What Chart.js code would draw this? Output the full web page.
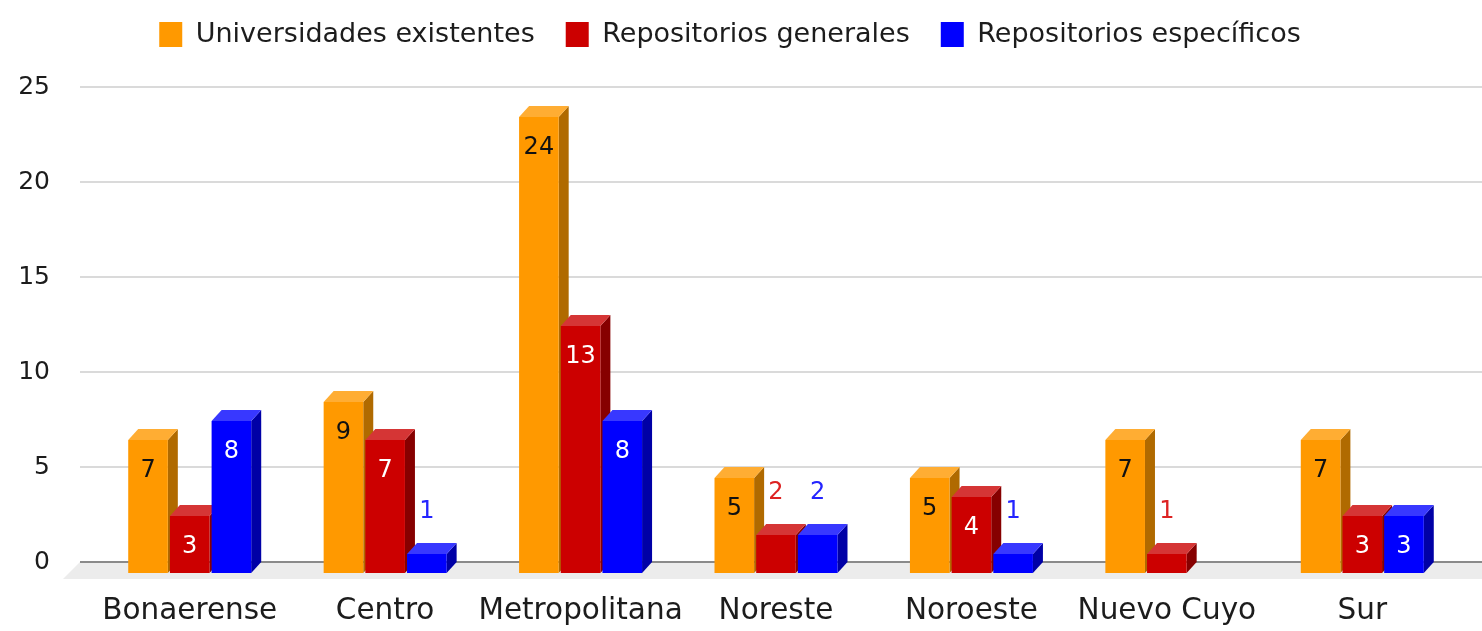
<!DOCTYPE html>
<html>
<head>
<meta charset="utf-8">
<script src="https://cdn.jsdelivr.net/npm/chart.js@4.4.1/dist/chart.umd.min.js"></script>
<style>
    html, body { margin: 0; padding: 0; background: #fff; overflow: hidden; }
    #wrap { width: 1482px; height: 645px; position: relative; }
</style>
</head>
<body>
<div id="wrap"><canvas id="chart"></canvas></div>
<script>
// Datos por región
const regiones = ['Bonaerense', 'Centro', 'Metropolitana', 'Noreste', 'Noroeste', 'Nuevo Cuyo', 'Sur'];
const universidades = [7, 9, 24, 5, 5, 7, 7];
const repoGenerales = [3, 7, 13, 2, 4, 1, 3];
const repoEspecificos = [8, 1, 8, 2, 1, 0, 3];
const yTicks = [0, 5, 10, 15, 20, 25];

// 3D look
const DX = 10, DY = 11;
const shades = [
    { front: '#ff9900', top: '#ffad33', side: '#b06a00', txtIn: '#111111', txtOut: '#cc6600' },
    { front: '#cc0000', top: '#d53535', side: '#860000', txtIn: '#ffffff', txtOut: '#dd2222' },
    { front: '#0000ff', top: '#3838ff', side: '#0000a6', txtIn: '#ffffff', txtOut: '#2424ff' }
];

Chart.defaults.font.family = "'DejaVu Sans', Verdana, sans-serif";
Chart.defaults.color = '#1c1c1c';

// legend takes a fixed band at the top
const legendBand = {
    id: 'legendBand',
    afterInit(chart) {
        const fit = chart.legend.fit;
        chart.legend.fit = function () {
            fit.call(this);
            this.height = 97;
        };
    }
};

const bars3d = {
    id: 'bars3d',
    beforeDatasetsDraw(chart) {
        const { ctx, chartArea, scales: { y } } = chart;
        const x0 = chartArea.left - 12, x1 = chart.width;
        const y0 = y.getPixelForValue(0);
        ctx.save();
        // floor
        ctx.fillStyle = '#ececec';
        ctx.beginPath();
        ctx.moveTo(x0, y0);
        ctx.lineTo(x1, y0);
        ctx.lineTo(x1, y0 + 17);
        ctx.lineTo(x0 - 17, y0 + 17);
        ctx.closePath();
        ctx.fill();
        // grid
        ctx.lineWidth = 2;
        ctx.strokeStyle = '#dadada';
        y.ticks.forEach(t => {
            if (t.value === 0) return;
            const py = Math.round(y.getPixelForValue(t.value));
            ctx.beginPath();
            ctx.moveTo(x0, py);
            ctx.lineTo(x1, py);
            ctx.stroke();
        });
        ctx.strokeStyle = '#8a8a8a';
        ctx.beginPath();
        ctx.moveTo(x0, Math.round(y0));
        ctx.lineTo(x1, Math.round(y0));
        ctx.stroke();
        ctx.restore();
    },
    beforeDatasetDraw() {
        return false;
    },
    afterDatasetsDraw(chart) {
        const ctx = chart.ctx;
        const labels = [];
        ctx.save();
        chart.data.datasets.forEach((ds, i) => {
            const meta = chart.getDatasetMeta(i);
            if (meta.hidden) return;
            const c = shades[i];
            meta.data.forEach((bar, j) => {
                const v = ds.data[j];
                if (!v) return;
                const { x, y, base, width } = bar.getProps(['x', 'y', 'base', 'width'], true);
                const l = x - width / 2, r = x + width / 2, t = y + DY, b = base + DY;
                // side
                ctx.fillStyle = c.side;
                ctx.beginPath();
                ctx.moveTo(r, t);
                ctx.lineTo(r + DX, y);
                ctx.lineTo(r + DX, base);
                ctx.lineTo(r, b);
                ctx.closePath();
                ctx.fill();
                // top
                ctx.fillStyle = c.top;
                ctx.beginPath();
                ctx.moveTo(l, t);
                ctx.lineTo(l + DX, y);
                ctx.lineTo(r + DX, y);
                ctx.lineTo(r, t);
                ctx.closePath();
                ctx.fill();
                // front
                ctx.fillStyle = c.front;
                ctx.fillRect(l, t, width, b - t);
                if (v >= 3) {
                    labels.push({ text: v, x: x, y: t + 31, color: c.txtIn });
                } else {
                    labels.push({ text: v, x: x, y: t - 42, color: c.txtOut });
                }
            });
        });
        ctx.font = "24px 'DejaVu Sans', Verdana, sans-serif";
        ctx.textAlign = 'center';
        ctx.textBaseline = 'middle';
        labels.forEach(lb => {
            ctx.fillStyle = lb.color;
            ctx.fillText(String(lb.text), lb.x, lb.y);
        });
        ctx.restore();
    }
};

new Chart(document.getElementById('chart'), {
    type: 'bar',
    data: {
        labels: regiones,
        datasets: [
            { label: 'Universidades existentes', data: universidades, backgroundColor: shades[0].front, borderWidth: 0 },
            { label: 'Repositorios generales', data: repoGenerales, backgroundColor: shades[1].front, borderWidth: 0 },
            { label: 'Repositorios específicos', data: repoEspecificos, backgroundColor: shades[2].front, borderWidth: 0 }
        ]
    },
    options: {
        responsive: true,
        maintainAspectRatio: false,
        animation: false,
        events: [],
        datasets: {
            bar: { categoryPercentage: 0.64, barPercentage: 0.95 }
        },
        layout: { padding: { top: -10, right: 22, left: 0, bottom: 0 } },
        plugins: {
            tooltip: { enabled: false },
            legend: {
                position: 'top',
                labels: {
                    boxWidth: 23,
                    boxHeight: 25,
                    padding: 31,
                    font: { size: 27, lineHeight: 1 }
                }
            }
        },
        scales: {
            x: {
                afterFit(s) { s.height = 83; },
                grid: { display: false, drawTicks: false },
                border: { display: false },
                ticks: { padding: 32, font: { size: 29.5 }, maxRotation: 0, autoSkip: false }
            },
            y: {
                min: 0,
                max: 25,
                afterBuildTicks(s) { s.ticks = yTicks.map(v => ({ value: v })); },
                afterFit(s) { s.width = 92; },
                grid: { display: false, drawTicks: false },
                border: { display: false },
                ticks: { padding: 42, font: { size: 25 } }
            }
        }
    },
    plugins: [legendBand, bars3d]
});
</script>
</body>
</html>
